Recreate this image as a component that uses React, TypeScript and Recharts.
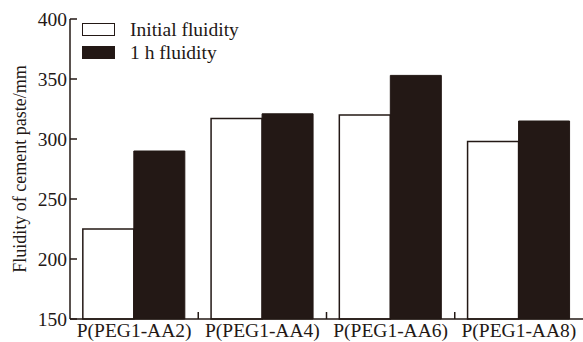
import { BarChart, Bar, XAxis, YAxis } from "recharts";

const samples = ["P(PEG1-AA2)", "P(PEG1-AA4)", "P(PEG1-AA6)", "P(PEG1-AA8)"];
const initialFluidity = [225, 317, 320, 298];
const oneHourFluidity = [290, 321, 353, 315];
const yTicks = [150, 200, 250, 300, 350, 400];
const seriesNames = ["Initial fluidity", "1 h fluidity"];

const data = samples.map((name, i) => ({
  name,
  initial: initialFluidity[i],
  hour: oneHourFluidity[i],
}));

const INK = "#231815";
const FONT = "'Liberation Serif', 'Times New Roman', serif";

function CategoryTick(props: any) {
  const { x, y, payload, index } = props;
  const off = payload.offset || 0;
  return (
    <g>
      <text
        x={x}
        y={y}
        dy={18}
        textAnchor="middle"
        fill={INK}
        fontSize={19.5}
        fontFamily={FONT}
      >
        {payload.value}
      </text>
      {index < samples.length - 1 && (
        <line x1={x + off} x2={x + off} y1={y} y2={y - 7} stroke={INK} strokeWidth={1.5} />
      )}
    </g>
  );
}

function LegendBox() {
  return (
    <div
      style={{
        position: "absolute",
        left: 82,
        top: 18,
        fontFamily: FONT,
        fontSize: 19.5,
        color: INK,
        lineHeight: "23px",
      }}
    >
      {seriesNames.map((nm, i) => (
        <div key={nm} style={{ display: "flex", alignItems: "center", height: 23 }}>
          <span
            style={{
              display: "inline-block",
              width: 31,
              height: 11,
              background: i === 1 ? INK : "#fff",
              border: `1.5px solid ${INK}`,
              marginRight: 15,
            }}
          />
          {nm}
        </div>
      ))}
    </div>
  );
}

export default function App() {
  return (
    <div style={{ position: "absolute", left: 0, top: 0, width: 583, height: 342, background: "#fff" }}>
      <BarChart
        width={583}
        height={342}
        data={data}
        margin={{ top: 19, right: 0, bottom: 0, left: 0 }}
        barCategoryGap="10%"
        barGap={0}
      >
        <XAxis
          dataKey="name"
          height={23}
          stroke={INK}
          strokeWidth={1.5}
          tickLine={false}
          tickSize={0}
          tickMargin={0}
          tick={<CategoryTick />}
          interval={0}
        />
        <YAxis
          width={70}
          domain={[150, 400]}
          ticks={yTicks}
          stroke={INK}
          strokeWidth={1.5}
          tickSize={-7}
          tickMargin={10}
          tick={{ fill: INK, fontSize: 19.5, fontFamily: FONT }}
          label={{
            value: "Fluidity of cement paste/mm",
            angle: -90,
            position: "insideLeft",
            offset: 20,
            style: { textAnchor: "middle", fill: INK, fontSize: 18, fontFamily: FONT },
          }}
        />
        <Bar
          dataKey="initial"
          name={seriesNames[0]}
          fill="#fff"
          stroke={INK}
          strokeWidth={1.5}
          isAnimationActive={false}
        />
        <Bar
          dataKey="hour"
          name={seriesNames[1]}
          fill={INK}
          stroke={INK}
          strokeWidth={1}
          isAnimationActive={false}
        />
      </BarChart>
      <LegendBox />
    </div>
  );
}
